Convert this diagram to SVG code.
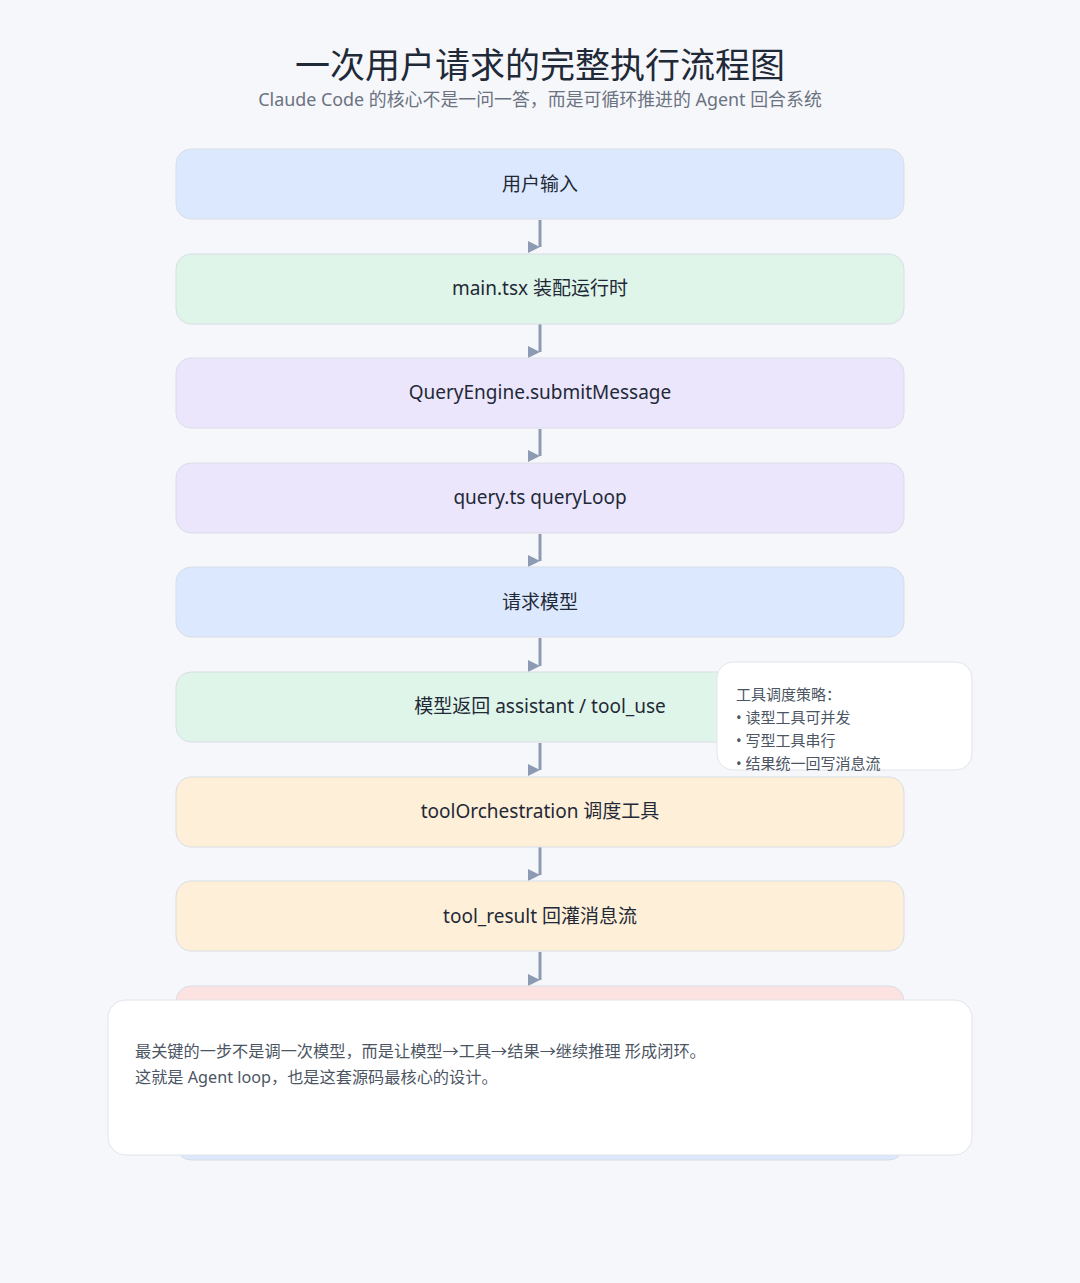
<svg xmlns="http://www.w3.org/2000/svg" width="1080" height="1283" viewBox="0 0 1080 1283">
<defs>
<style>
.title{font-family:"Noto Sans","Noto Sans CJK SC",sans-serif;font-size:35px;fill:#1f2937;text-anchor:middle}
.sub{font-family:"Noto Sans","Noto Sans CJK SC",sans-serif;font-size:17.9px;fill:#6b7280;text-anchor:middle}
.node rect{stroke:#d9dde6;stroke-width:1}
.lbl{font-family:"Noto Sans","Noto Sans CJK SC",sans-serif;font-size:19px;fill:#1f2937;text-anchor:middle}
.blue{fill:#dbe8fd}
.green{fill:#e0f5e9}
.purple{fill:#ebe6fc}
.orange{fill:#feefd8}
.red{fill:#fde2e2}
.conn line{stroke:#8c9bb2;stroke-width:3}
.note{fill:#ffffff;stroke:#e1e4ea;stroke-width:1}
.ntxt{font-family:"Noto Sans","Noto Sans CJK SC",sans-serif;font-size:15px;fill:#4b5563}
.btxt{font-family:"Noto Sans","Noto Sans CJK SC",sans-serif;font-size:16.2px;fill:#4b5563}
</style>
<marker id="ah" markerWidth="12" markerHeight="12" refX="12" refY="6" orient="0" markerUnits="userSpaceOnUse">
<path d="M0,0 L12,6 L0,12 z" fill="#8c9bb2"/>
</marker>
</defs>
<rect width="1080" height="1283" fill="#f6f7fb"/>
<g id="title">
<text class="title" x="540" y="78">一次用户请求的完整执行流程图</text>
<text class="sub" x="540" y="106">Claude Code 的核心不是一问一答，而是可循环推进的 Agent 回合系统</text>
</g>
<g class="conn" id="connectors">
<line x1="540" y1="220" x2="540" y2="247" marker-end="url(#ah)"/>
<line x1="540" y1="324" x2="540" y2="352" marker-end="url(#ah)"/>
<line x1="540" y1="429" x2="540" y2="456" marker-end="url(#ah)"/>
<line x1="540" y1="534" x2="540" y2="561" marker-end="url(#ah)"/>
<line x1="540" y1="638" x2="540" y2="666" marker-end="url(#ah)"/>
<line x1="540" y1="743" x2="540" y2="770" marker-end="url(#ah)"/>
<line x1="540" y1="847" x2="540" y2="875" marker-end="url(#ah)"/>
<line x1="540" y1="952" x2="540" y2="980" marker-end="url(#ah)"/>
<line x1="540" y1="1056" x2="540" y2="1084" marker-end="url(#ah)"/>
</g>
<g class="node" id="n1"><rect class="blue" x="176" y="149" width="728" height="70" rx="15"/><text class="lbl" x="540" y="191">用户输入</text></g>
<g class="node" id="n2"><rect class="green" x="176" y="254" width="728" height="70" rx="15"/><text class="lbl" x="540" y="295">main.tsx 装配运行时</text></g>
<g class="node" id="n3"><rect class="purple" x="176" y="358" width="728" height="70" rx="15"/><text class="lbl" x="540" y="399">QueryEngine.submitMessage</text></g>
<g class="node" id="n4"><rect class="purple" x="176" y="463" width="728" height="70" rx="15"/><text class="lbl" x="540" y="504">query.ts queryLoop</text></g>
<g class="node" id="n5"><rect class="blue" x="176" y="567" width="728" height="70" rx="15"/><text class="lbl" x="540" y="609">请求模型</text></g>
<g class="node" id="n6"><rect class="green" x="176" y="672" width="728" height="70" rx="15"/><text class="lbl" x="540" y="713">模型返回 assistant / tool_use</text></g>
<g class="node" id="n7"><rect class="orange" x="176" y="777" width="728" height="70" rx="15"/><text class="lbl" x="540" y="818">toolOrchestration 调度工具</text></g>
<g class="node" id="n8"><rect class="orange" x="176" y="881" width="728" height="70" rx="15"/><text class="lbl" x="540" y="923">tool_result 回灌消息流</text></g>
<g class="node" id="n9"><rect class="red" x="176" y="986" width="728" height="70" rx="15"/></g>
<g class="node" id="n10"><rect class="blue" x="176" y="1090" width="728" height="70" rx="15"/></g>
<g id="side-note">
<rect class="note" x="717" y="662" width="255" height="108" rx="16"/>
<text class="ntxt" x="736" y="700">工具调度策略：</text>
<text class="ntxt" x="736" y="723">• 读型工具可并发</text>
<text class="ntxt" x="736" y="746">• 写型工具串行</text>
<text class="ntxt" x="736" y="769">• 结果统一回写消息流</text>
</g>
<g id="bottom-note">
<rect class="note" x="108" y="1000" width="864" height="155" rx="18"/>
<text class="btxt" x="135" y="1057">最关键的一步不是调一次模型，而是让模型→工具→结果→继续推理 形成闭环。</text>
<text class="btxt" x="135" y="1083">这就是 Agent loop，也是这套源码最核心的设计。</text>
</g>
</svg>
